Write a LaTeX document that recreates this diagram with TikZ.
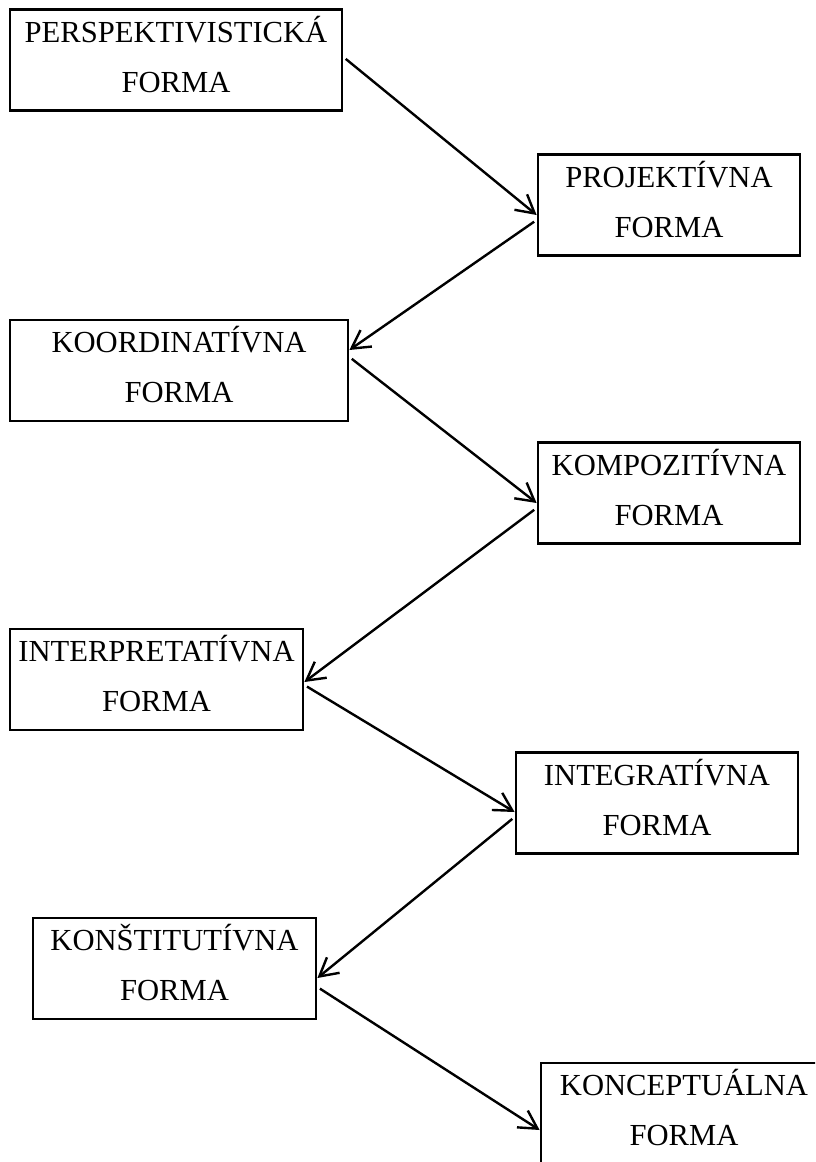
\documentclass[tikz,border=0pt]{standalone}
\usepackage{fontspec}
\setmainfont{Liberation Serif}
\usetikzlibrary{arrows.meta}
\newcommand{\formline}{\rule[-9pt]{0pt}{25pt}}

\begin{document}
\begin{tikzpicture}[x=0.5pt, y=-0.5pt,
        formbox/.style={draw, line width=1.4pt, rectangle, inner sep=0pt, align=center,
            minimum height=50.5pt, font=\fontsize{15.3}{25}\selectfont},
        formarrow/.style={line width=1.2pt, -{Straight Barb[length=9pt,width=10pt]}, shorten <=1.5pt}]
    \useasboundingbox (0,0) rectangle (815,1162);
    \clip (0,0) rectangle (815,1162);

    % boxes: name / x / y / width / first line
    \foreach \n/\x/\y/\w/\t in {k1/176/60/166/PERSPEKTIVISTICKÁ, k2/669/205/131/PROJEKTÍVNA,
        k3/179/370.5/169/KOORDINATÍVNA, k4/669/493/131/KOMPOZITÍVNA,
        k5/156.5/679.5/146.5/INTERPRETATÍVNA, k6/657/803/141/INTEGRATÍVNA,
        k7/174.5/968.5/141.5/KONŠTITUTÍVNA, k8/684/1113.5/143/KONCEPTUÁLNA}{
        \node[formbox, minimum width=\w pt] (\n) at (\x,\y) {\formline \t\\\formline FORMA};
    }

    % zig-zag arrows
    \foreach \a/\b/\sa/\sb/\ea/\eb in {k1/k2/east/west/1.5/-5, k2/k3/west/east/-7.5/10.25,
        k3/k4/east/west/6.75/-5, k4/k5/west/east/-7.5/-1.25,
        k5/k6/east/west/-2.75/-4.5, k6/k7/west/east/-7/-4.75,
        k7/k8/east/west/-9.25/-8.25}{
        \draw[formarrow] ([yshift=\ea pt]\a.\sa) -- ([yshift=\eb pt]\b.\sb);
    }
\end{tikzpicture}
\end{document}
